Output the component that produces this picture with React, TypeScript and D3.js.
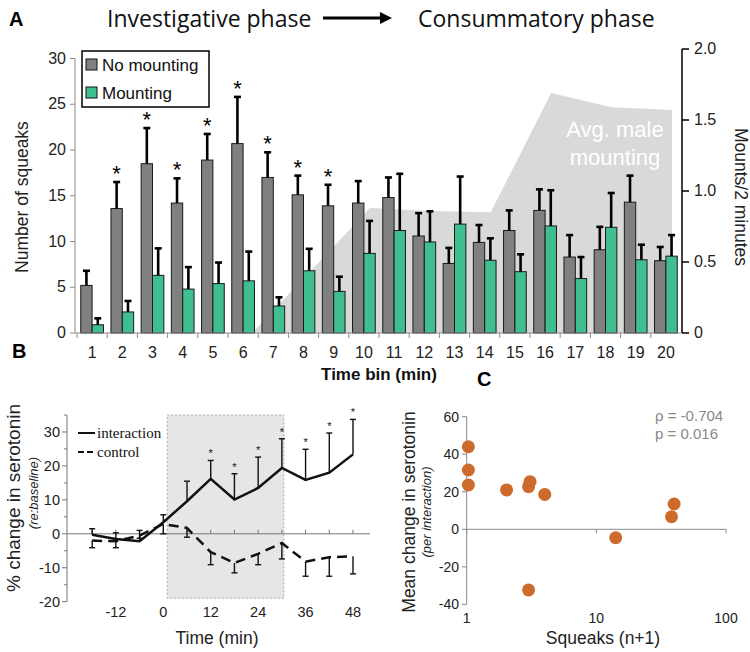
import React from "react";
import * as d3 from "d3";

// ---------- Panel A data ----------
const bins = ["1","2","3","4","5","6","7","8","9","10","11","12","13","14","15","16","17","18","19","20"];
const noMounting = [5.2, 13.6, 18.5, 14.2, 18.9, 20.7, 17.0, 15.1, 13.9, 14.2, 14.8, 10.6, 7.6, 9.9, 11.2, 13.4, 8.3, 9.1, 14.3, 7.9];
const noMountingErr = [1.6, 2.9, 3.9, 2.7, 2.85, 5.1, 2.75, 2.1, 2.3, 2.4, 2.2, 2.5, 1.7, 1.9, 2.2, 2.3, 2.4, 2.5, 2.9, 1.5];
const mounting = [0.9, 2.3, 6.3, 4.8, 5.4, 5.7, 2.95, 6.8, 4.55, 8.7, 11.2, 9.95, 11.9, 7.95, 6.7, 11.7, 5.95, 11.55, 8.0, 8.4];
const mountingErr = [0.7, 1.2, 2.95, 2.4, 2.3, 3.2, 0.95, 2.4, 1.6, 3.55, 6.2, 3.35, 5.2, 2.4, 1.9, 3.9, 2.35, 3.75, 1.65, 2.3];
const starBins = ["2","3","4","5","6","7","8","9"];
const mountTime = [5.8, 9.7, 11.7, 13.7, 15.7, 17.7, 19.7, 19.7];
const mountRate = [0, 0.88, 0.86, 0.85, 1.69, 1.59, 1.57, 0];
const leftTicks = [0, 5, 10, 15, 20, 25, 30];
const rightTicks = [0, 0.5, 1.0, 1.5, 2.0];

// ---------- Panel B data ----------
const timesB = [-18, -12, -6, 0, 6, 12, 18, 24, 30, 36, 42, 48];
const interaction = [-0.3, -1.5, -2.2, 3.4, 9.6, 16.2, 10.1, 13.5, 19.4, 15.9, 18.0, 23.4];
const interactionErr = [1.8, 1.8, 3.2, 2.2, 5.9, 5.4, 7.6, 9.1, 8.6, 9.0, 11.7, 10.3];
const interactionStar = [false, false, false, false, false, true, true, true, true, true, true, true];
const control = [-2.0, -2.2, -0.5, 2.9, 1.7, -5.4, -8.6, -5.9, -2.7, -8.2, -6.9, -6.6];
const controlErr = [2.1, 1.9, 0.8, 2.9, 2.7, 3.7, 2.9, 3.2, 4.7, 4.3, 5.6, 5.2];
const xTicksB = [-12, 0, 12, 24, 36, 48];
const yTicksB = [-20, -10, 0, 10, 20, 30];
const yMinorB = [-15, -5, 5, 15, 25, 35];

// ---------- Panel C data ----------
const squeaks = [1.03, 1.03, 1.03, 2.03, 3.08, 3.0, 4.0, 14.1, 39.8, 38.0, 3.0];
const serotoninChange = [44, 31.6, 23.6, 21, 25.4, 22.7, 18.6, -4.5, 13.5, 6.7, -32.3];
const yTicksC = [-40, -20, 0, 20, 40, 60];
const xTicksC = [1, 10, 100];

const SANS = "'Liberation Sans', Arial, sans-serif";
const SERIF = "'Liberation Serif', 'Times New Roman', serif";
const TITLE = "'Open Sans', 'Noto Sans', sans-serif";
const GRAY_BAR = "#808080";
const GREEN_BAR = "#3fbf8f";
const AXIS_GRAY = "#8a8a8a";

function PanelA() {
  const x = d3.scaleBand<string>().domain(bins).range([77, 681]).paddingInner(0);
  const inner = d3.scaleBand<string>().domain(["n", "m"]).range([0, x.bandwidth()]).paddingOuter(0.33).paddingInner(0);
  const y = d3.scaleLinear().domain([0, 30]).range([333, 58.5]);
  const yR = d3.scaleLinear().domain([0, 2]).range([333, 49]);
  const t = d3.scaleLinear().domain([0, 20]).range([77, 681]);
  const areaPts = mountTime.map((tt, i) => [tt, mountRate[i]] as [number, number]);
  const area = d3.area<[number, number]>().x(d => t(d[0])).y0(yR(0)).y1(d => yR(d[1]));
  const bw = inner.bandwidth();
  const series = [
    { key: "n", vals: noMounting, errs: noMountingErr, fill: GRAY_BAR },
    { key: "m", vals: mounting, errs: mountingErr, fill: GREEN_BAR },
  ];
  return (
    <g>
      <text x={9} y={26} fontFamily={SANS} fontWeight="bold" fontSize={20}>A</text>
      <text x={107} y={27} fontFamily={TITLE} fontSize={23} fill="#111">Investigative phase</text>
      <line x1={323} x2={382} y1={18} y2={18} stroke="#000" strokeWidth={3} />
      <path d="M380,12 L392,18 L380,24 Z" fill="#000" />
      <text x={418} y={27} fontFamily={TITLE} fontSize={23} fill="#111">Consummatory phase</text>

      <path d={area(areaPts) || ""} fill="#d9d9d9" />
      <text x={615} y={137} textAnchor="middle" fontFamily={SANS} fontSize={22} fill="#fff">Avg. male</text>
      <text x={615} y={165} textAnchor="middle" fontFamily={SANS} fontSize={22} fill="#fff">mounting</text>

      {series.map(s => bins.map((b, i) => {
        const bx = (x(b) || 0) + (inner(s.key) || 0);
        const top = y(s.vals[i]);
        const et = y(s.vals[i] + s.errs[i]);
        const cx = bx + bw / 2;
        return (
          <g key={s.key + b}>
            <rect x={bx} y={top} width={bw} height={y(0) - top} fill={s.fill} stroke="#1a1a1a" strokeWidth={1} />
            <line x1={cx} x2={cx} y1={top} y2={et} stroke="#000" strokeWidth={2.6} />
            <line x1={cx - 3.5} x2={cx + 3.5} y1={et} y2={et} stroke="#000" strokeWidth={2.6} />
          </g>
        );
      }))}
      {starBins.map(b => {
        const i = bins.indexOf(b);
        const cx = (x(b) || 0) + (inner("n") || 0) + bw / 2;
        return <text key={"s" + b} x={cx} y={y(noMounting[i] + noMountingErr[i]) - 1} textAnchor="middle" fontFamily={SANS} fontSize={22}>*</text>;
      })}

      {/* left axis */}
      <line x1={75} x2={75} y1={y(30)} y2={y(0)} stroke={AXIS_GRAY} strokeWidth={1} />
      {leftTicks.map(v => (
        <g key={"lt" + v}>
          <line x1={70} x2={75} y1={y(v)} y2={y(v)} stroke={AXIS_GRAY} />
          <text x={66} y={y(v) + 5} textAnchor="end" fontFamily={SANS} fontSize={16} fill="#222">{v}</text>
        </g>
      ))}
      <text transform={`translate(28,197) rotate(-90)`} textAnchor="middle" fontFamily={SANS} fontSize={17.5} fill="#222">Number of squeaks</text>

      {/* x axis */}
      <line x1={75} x2={681} y1={y(0)} y2={y(0)} stroke={AXIS_GRAY} />
      {bins.map((b, i) => (
        <g key={"xt" + b}>
          <line x1={(x(b) || 0)} x2={(x(b) || 0)} y1={y(0)} y2={y(0) + 5} stroke={AXIS_GRAY} />
          <text x={(x(b) || 0) + x.bandwidth() / 2} y={358} textAnchor="middle" fontFamily={SANS} fontSize={16} fill="#222">{b}</text>
        </g>
      ))}
      <text x={379} y={380} textAnchor="middle" fontFamily={SANS} fontWeight="bold" fontSize={17} fill="#111">Time bin (min)</text>

      {/* right axis */}
      <line x1={682} x2={682} y1={yR(2)} y2={yR(0)} stroke="#000" strokeWidth={1.5} />
      {rightTicks.map(v => (
        <g key={"rt" + v}>
          <line x1={682} x2={689} y1={yR(v)} y2={yR(v)} stroke="#000" strokeWidth={1.5} />
          <text x={694} y={yR(v) + 5} fontFamily={SANS} fontSize={16} fill="#222">{v === 0 ? "0" : v.toFixed(1)}</text>
        </g>
      ))}
      <text transform={`translate(735,197) rotate(90)`} textAnchor="middle" fontFamily={SANS} fontSize={17.5} fill="#222">Mounts/2 minutes</text>

      {/* legend */}
      <rect x={82} y={51} width={127} height={56} fill="#fff" stroke="#000" strokeWidth={1.5} />
      <rect x={86} y={59} width={11} height={11} fill={GRAY_BAR} stroke="#111" />
      <text x={102} y={71} fontFamily={SANS} fontSize={17} fill="#111">No mounting</text>
      <rect x={86} y={87} width={11} height={11} fill={GREEN_BAR} stroke="#111" />
      <text x={102} y={99} fontFamily={SANS} fontSize={17} fill="#111">Mounting</text>
    </g>
  );
}

function PanelB() {
  const x = d3.scaleLinear().domain([0, 48]).range([163.3, 353]);
  const y = d3.scaleLinear().domain([-20, 35]).range([601.7, 415]);
  const line = d3.line<number>().x((_, i) => x(timesB[i])).y(d => y(d));
  return (
    <g>
      <text x={12} y={358} fontFamily={SANS} fontWeight="bold" fontSize={20}>B</text>
      <rect x={x(1)} y={y(35)} width={x(30.5) - x(1)} height={y(-19) - y(35)} fill="#e6e6e6" stroke="#aaa" strokeDasharray="2,2" />
      <line x1={67} x2={370} y1={y(0)} y2={y(0)} stroke="#777" strokeWidth={1} />
      <line x1={67} x2={67} y1={y(35)} y2={y(-20)} stroke="#777" strokeWidth={1} />
      {yTicksB.map(v => (
        <g key={"by" + v}>
          <line x1={62} x2={67} y1={y(v)} y2={y(v)} stroke="#777" />
          <text x={60} y={y(v) + 5} textAnchor="end" fontFamily={SANS} fontSize={14.5} fill="#222">{v}</text>
        </g>
      ))}
      {yMinorB.map(v => <line key={"bm" + v} x1={64} x2={67} y1={y(v)} y2={y(v)} stroke="#777" />)}
      {timesB.map(tt => <line key={"bt" + tt} x1={x(tt)} x2={x(tt)} y1={y(0)} y2={y(0) - 4} stroke="#777" />)}
      {xTicksB.map(v => (
        <text key={"bx" + v} x={x(v)} y={617} textAnchor="middle" fontFamily={SANS} fontSize={14.5} fill="#222">{v}</text>
      ))}
      <text x={217} y={644} textAnchor="middle" fontFamily={SANS} fontSize={17.5} fill="#222">Time (min)</text>
      <text transform={`translate(20,498) rotate(-90)`} textAnchor="middle" fontFamily={SANS} fontSize={19} fill="#222">% change in serotonin</text>
      <text transform={`translate(38,493) rotate(-90)`} textAnchor="middle" fontFamily={SANS} fontStyle="italic" fontSize={13} fill="#222">(re:baseline)</text>

      {/* control */}
      <path d={line(control) || ""} fill="none" stroke="#111" strokeWidth={2.5} strokeDasharray="10,6" />
      {control.map((v, i) => {
        const cx = x(timesB[i]);
        const eb = y(v - controlErr[i]);
        return (
          <g key={"ce" + i}>
            <line x1={cx} x2={cx} y1={y(v)} y2={eb} stroke="#111" strokeWidth={1.4} />
            <line x1={cx - 3} x2={cx + 3} y1={eb} y2={eb} stroke="#111" strokeWidth={1.4} />
          </g>
        );
      })}
      {/* interaction */}
      <path d={line(interaction) || ""} fill="none" stroke="#111" strokeWidth={2.5} />
      {interaction.map((v, i) => {
        const cx = x(timesB[i]);
        const et = y(v + interactionErr[i]);
        return (
          <g key={"ie" + i}>
            <line x1={cx} x2={cx} y1={y(v)} y2={et} stroke="#111" strokeWidth={1.4} />
            <line x1={cx - 3} x2={cx + 3} y1={et} y2={et} stroke="#111" strokeWidth={1.4} />
            {interactionStar[i] && <text x={cx} y={et - 3} textAnchor="middle" fontFamily={SANS} fontSize={11} fill="#111">*</text>}
          </g>
        );
      })}
      {/* legend */}
      <line x1={78} x2={95} y1={433} y2={433} stroke="#111" strokeWidth={2} />
      <text x={97} y={438} fontFamily={SERIF} fontSize={15} fill="#111">interaction</text>
      <line x1={78} x2={95} y1={452} y2={452} stroke="#111" strokeWidth={2} strokeDasharray="6,3" />
      <text x={97} y={457} fontFamily={SERIF} fontSize={15} fill="#111">control</text>
    </g>
  );
}

function PanelC() {
  const x = d3.scaleLog().domain([1, 100]).range([466.7, 726]);
  const y = d3.scaleLinear().domain([-40, 60]).range([604.4, 416.7]);
  return (
    <g>
      <text x={477} y={386} fontFamily={SANS} fontWeight="bold" fontSize={20}>C</text>
      <line x1={466.7} x2={466.7} y1={y(60)} y2={y(-40)} stroke={AXIS_GRAY} />
      {yTicksC.map(v => (
        <g key={"cy" + v}>
          <line x1={462} x2={466.7} y1={y(v)} y2={y(v)} stroke={AXIS_GRAY} />
          <text x={459} y={y(v) + 5} textAnchor="end" fontFamily={SANS} fontSize={14} fill="#222">{v}</text>
        </g>
      ))}
      <line x1={466.7} x2={726} y1={y(0)} y2={y(0)} stroke={AXIS_GRAY} />
      {xTicksC.map(v => (
        <g key={"cx" + v}>
          <line x1={x(v)} x2={x(v)} y1={y(0)} y2={y(0) + 4} stroke={AXIS_GRAY} />
          <text x={x(v)} y={623} textAnchor="middle" fontFamily={SANS} fontSize={14} fill="#222">{v}</text>
        </g>
      ))}
      <text x={603} y={644} textAnchor="middle" fontFamily={SANS} fontSize={17.5} fill="#222">Squeaks (n+1)</text>
      <text transform={`translate(415,512) rotate(-90)`} textAnchor="middle" fontFamily={SANS} fontSize={17.5} fill="#222">Mean change in serotonin</text>
      <text transform={`translate(431,512) rotate(-90)`} textAnchor="middle" fontFamily={SANS} fontStyle="italic" fontSize={13} fill="#222">(per interaction)</text>
      <text x={655} y={421} fontFamily={SANS} fontSize={15} fill="#888">ρ = -0.704</text>
      <text x={655} y={439} fontFamily={SANS} fontSize={15} fill="#888">p = 0.016</text>
      {squeaks.map((s, i) => (
        <circle key={"pt" + i} cx={x(s)} cy={y(serotoninChange[i])} r={6.5} fill="#cc6b2c" />
      ))}
    </g>
  );
}

export default function App() {
  return (
    <svg width={750} height={652} style={{ position: "absolute", left: 0, top: 0, background: "#fff" }}>
      <rect width={750} height={652} fill="#fff" />
      <PanelA />
      <PanelB />
      <PanelC />
    </svg>
  );
}
